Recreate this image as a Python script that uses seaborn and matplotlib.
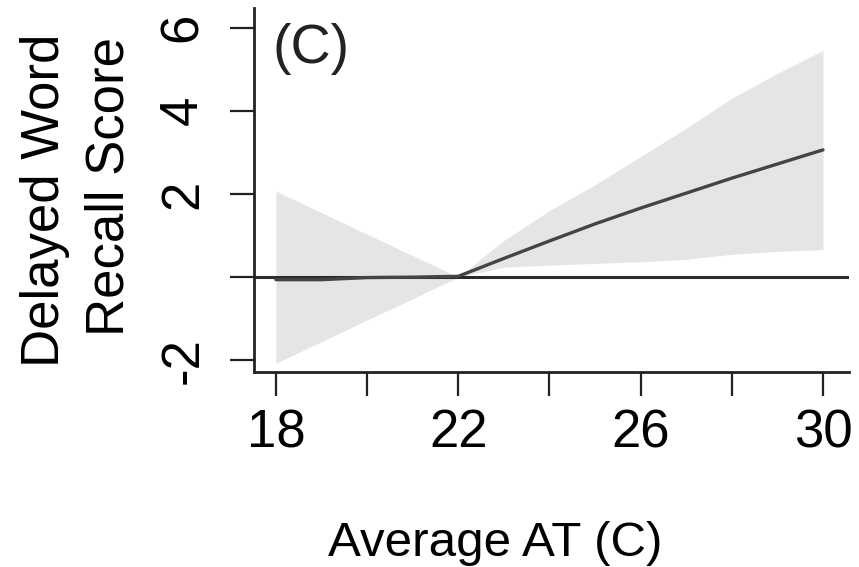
import numpy as np
import pandas as pd
import matplotlib
matplotlib.use("Agg")
import matplotlib.pyplot as plt
import seaborn as sns

# ---- data ----
temp = [18, 19, 20, 21, 22, 23, 24, 25, 26, 27, 28, 29, 30]
effect = [-0.06, -0.06, -0.01, 0.0, 0.02, 0.45, 0.87, 1.28, 1.66, 2.02, 2.38, 2.72, 3.06]
ci_upper = [2.07, 1.55, 1.03, 0.52, 0.0, 0.88, 1.60, 2.22, 2.90, 3.58, 4.30, 4.90, 5.45]
ci_lower = [-2.07, -1.55, -1.03, -0.52, 0.0, 0.24, 0.29, 0.33, 0.37, 0.43, 0.55, 0.62, 0.66]
x_ticks = [18, 20, 22, 24, 26, 28, 30]
x_tick_labels = ["18", "", "22", "", "26", "", "30"]
y_ticks = [-2, 0, 2, 4, 6]
y_tick_labels = ["-2", "", "2", "4", "6"]
panel_label = "(C)"
x_label = "Average AT (C)"
y_label_lines = ["Delayed Word", "Recall Score"]

df = pd.DataFrame({"temp": temp, "effect": effect,
                   "lo": ci_lower, "hi": ci_upper})

sns.set_theme(style="ticks")
regular = ["Liberation Sans", "DejaVu Sans"]
plt.rcParams["font.family"] = regular

W, H = 859, 567
fig = plt.figure(figsize=(W / 100, H / 100), dpi=100)
fig.patch.set_facecolor("white")
ax = fig.add_axes([254 / W, 1 - 372 / H, (849 - 254) / W, (372 - 8) / H])
ax.set_facecolor("white")

ax.fill_between(df["temp"], df["lo"], df["hi"], color="#e5e5e5", lw=0, zorder=1)
ax.axhline(0, color="#2a2a2a", lw=2.2, zorder=2)
sns.lineplot(data=df, x="temp", y="effect", ax=ax, color="#444444",
             lw=2.4, zorder=3, estimator=None)

ax.set_xlim(17.52, 30.57)
ax.set_ylim(-2.28, 6.47)

ax.set_xticks(x_ticks)
ax.set_xticklabels(x_tick_labels)
ax.set_yticks(y_ticks)
ax.set_yticklabels(y_tick_labels, rotation=90, va="center")

for lab in ax.get_xticklabels() + ax.get_yticklabels():
    lab.set_family(regular)
    lab.set_fontsize(38)
    lab.set_color("black")

ax.tick_params(axis="x", length=17, width=1.6, color="#222222", pad=9)
ax.tick_params(axis="y", length=17, width=1.6, color="#222222", pad=16)

sns.despine(ax=ax)
for s in ["left", "bottom"]:
    ax.spines[s].set_linewidth(2.0)
    ax.spines[s].set_color("#222222")

ax.set_xlabel("")
ax.set_ylabel("")

# panel label
fig.text(273 / W, 1 - 49 / H, panel_label, ha="left", va="center",
         fontsize=40, color="#222222", family=regular)

# axis labels
fig.text(495 / W, 1 - 543 / H, x_label, ha="center", va="center",
         fontsize=35.5, color="black", family=regular)
fig.text(45 / W, 1 - 200 / H, y_label_lines[0], ha="center", va="center",
         rotation=90, fontsize=38, color="black", family=regular)
fig.text(110 / W, 1 - 186 / H, y_label_lines[1], ha="center", va="center",
         rotation=90, fontsize=38, color="black", family=regular)

fig.savefig("out.png", dpi=100, facecolor="white")
